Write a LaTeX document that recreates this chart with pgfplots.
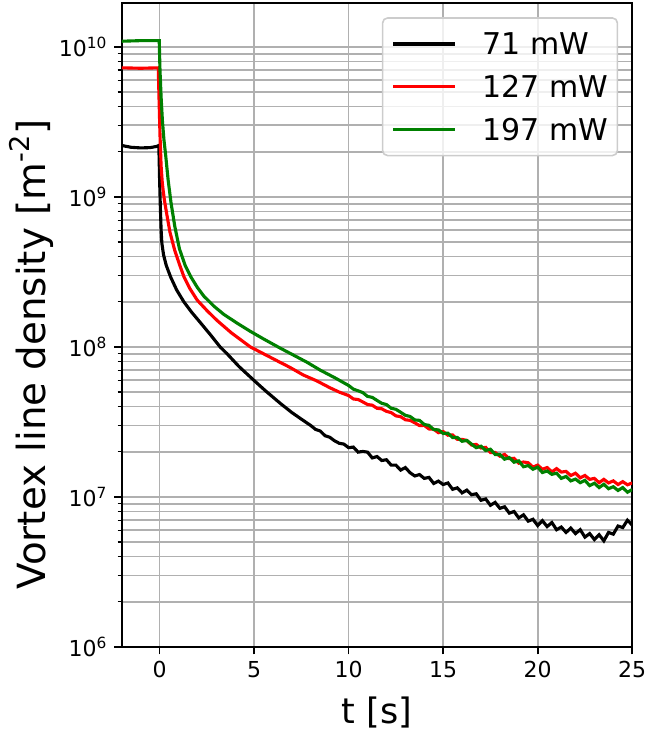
\documentclass[border=0pt]{standalone}
\usepackage{fontspec}
\setmainfont{DejaVu Sans}
\usepackage{pgfplots}
\pgfplotsset{compat=1.18}
\definecolor{gridgray}{RGB}{176,176,176}
\definecolor{legframe}{RGB}{204,204,204}
\definecolor{mplgreen}{RGB}{0,128,0}
\begin{document}
\begin{tikzpicture}
\useasboundingbox (0,0) rectangle (323.5pt,367.5pt);
\begin{axis}[
  at={(60.9pt,44pt)}, anchor=south west,
  scale only axis, width=255.2pt, height=322pt,
  ymode=log, xmin=-2, xmax=25, ymin=1e6, ymax=1.96e10,
  xtick={0,5,10,15,20,25},
  ytick={1e6,1e7,1e8,1e9,1e10},
  yticklabels={{10\textsuperscript{6}},{10\textsuperscript{7}},{10\textsuperscript{8}},{10\textsuperscript{9}},{10\textsuperscript{10}}},
  minor ytick={2e6,3e6,4e6,5e6,6e6,7e6,8e6,9e6,2e7,3e7,4e7,5e7,6e7,7e7,8e7,9e7,2e8,3e8,4e8,5e8,6e8,7e8,8e8,9e8,2e9,3e9,4e9,5e9,6e9,7e9,8e9,9e9},
  /pgf/number format/assume math mode=true,
  tick pos=left, tick align=outside,
  major tick length=3.65pt, minor tick length=2.1pt,
  every tick/.style={black, line width=0.83pt},
  minor tick style={black, line width=0.62pt},
  ticklabel style={font=\fontsize{11}{13}\selectfont},
  xmajorgrids, ymajorgrids, yminorgrids,
  major grid style={gridgray, line width=0.83pt},
  minor grid style={gridgray, line width=0.83pt},
  axis line style={black, line width=0.83pt},
  xlabel={t [s]},
  ylabel={Vortex line density [m\textsuperscript{-2}]},
  xlabel style={font=\fontsize{17.5}{21}\selectfont, at={(axis description cs:0.5,0)}, anchor=center, yshift=-33pt},
  ylabel style={font=\fontsize{19.4}{23}\selectfont, at={(axis description cs:-0.177,0.4544)}, anchor=center},
  legend style={at={(0.9726,0.978)}, anchor=north east, draw=legframe, rounded corners=2.5pt,
    fill=white, fill opacity=0.8, text opacity=1, draw opacity=1,
    font=\fontsize{15}{18}\selectfont, inner xsep=4.5pt, inner ysep=7.5pt, row sep=10.4pt,
    line width=0.8pt,
    nodes={inner sep=0pt, text height=11pt, text depth=0pt},
    /tikz/every odd column/.append style={column sep=13pt}},
  legend cell align=left,
  legend image code/.code={\draw[#1] (0pt,0pt) -- (31pt,0pt);},
]
\addplot[black, line width=1.56pt] coordinates {
(-2,2.2e9) (-1.5,2.14e9) (-1,2.12e9) (-0.5,2.13e9) (-0.15,2.17e9) (-0.04,2.2e9)
(0.0,1.3e9) (0.04,8.5e8) (0.08,6.0e8) (0.12,4.9e8) (0.21,4.1e8) (0.35,3.5e8)
(0.58,2.93e8) (0.9,2.4e8) (1.28,2.0e8) (1.7,1.7e8) (2.16,1.45e8) (2.7,1.2e8)
(3.2,1.0e8) (3.57,9.0e7) (4.2,7.4e7) (4.98,6.0e7) (5.6,5.1e7) (6.39,4.2e7)
(7.0,3.65e7) (7.5,3.3e7)
(8.0,2.99e7) (8.25,2.82e7) (8.5,2.75e7) (8.75,2.56e7) (9.0,2.50e7) (9.25,2.37e7)
(9.5,2.28e7) (9.75,2.25e7) (10.0,2.13e7) (10.25,2.15e7) (10.5,1.99e7) (10.75,2.01e7)
(11.0,1.99e7) (11.25,1.82e7) (11.5,1.86e7) (11.75,1.75e7) (12.0,1.77e7) (12.25,1.63e7)
(12.5,1.63e7) (12.75,1.51e7) (13.0,1.57e7) (13.25,1.45e7) (13.5,1.38e7) (13.75,1.41e7)
(14.0,1.33e7) (14.25,1.35e7) (14.5,1.23e7) (14.75,1.275e7) (15.0,1.21e7) (15.25,1.24e7)
(15.5,1.125e7) (15.75,1.15e7) (16.0,1.065e7) (16.25,1.11e7) (16.5,1.035e7) (16.75,1.05e7)
(17.0,9.5e6) (17.25,9.7e6) (17.5,8.8e6) (17.75,9.2e6) (18.0,8.4e6) (18.25,8.6e6)
(18.5,7.8e6) (18.75,8.0e6) (19.0,7.25e6) (19.25,7.6e6) (19.5,6.9e6) (19.75,7.1e6)
(20.0,6.45e6) (20.25,6.95e6) (20.5,6.35e6) (20.75,6.75e6) (21.0,6.05e6) (21.25,6.3e6)
(21.5,5.8e6) (21.75,6.2e6) (22.0,5.7e6) (22.25,6.05e6) (22.5,5.4e6) (22.75,5.7e6)
(23.0,5.2e6) (23.25,5.6e6) (23.5,5.1e6) (23.75,5.8e6) (24.0,5.65e6) (24.25,6.4e6)
(24.5,6.25e6) (24.75,7.0e6) (25.0,6.5e6)
};
\addlegendentry{71 mW}
\addplot[red, line width=1.56pt] coordinates {
(-2,7.25e9) (-1,7.2e9) (-0.07,7.25e9) (-0.03,4.5e9) (0.02,2.6e9) (0.08,1.6e9)
(0.14,1.25e9) (0.19,1.1e9) (0.25,9.6e8) (0.4,7.4e8) (0.55,5.8e8) (0.8,4.4e8)
(1.05,3.55e8) (1.28,2.95e8) (1.6,2.45e8) (1.99,2.05e8) (2.5,1.75e8) (3.04,1.5e8)
(3.8,1.24e8) (4.8,1.0e8) (5.5,9.0e7) (6.2,8.1e7) (6.9,7.3e7) (7.6,6.5e7)
(8.3,5.95e7) (9.0,5.35e7) (9.5,5.0e7)
(10.0,4.74e7) (10.25,4.50e7) (10.5,4.46e7) (10.75,4.30e7) (11.0,4.13e7) (11.25,4.09e7)
(11.5,3.90e7) (11.75,3.87e7) (12.0,3.72e7) (12.25,3.65e7) (12.5,3.47e7) (12.75,3.43e7)
(13.0,3.27e7) (13.25,3.24e7) (13.5,3.12e7) (13.75,2.99e7) (14.0,3.00e7) (14.25,2.84e7)
(14.5,2.83e7) (14.75,2.68e7) (15.0,2.73e7) (15.25,2.58e7) (15.5,2.59e7) (15.75,2.42e7)
(16.0,2.42e7) (16.25,2.38e7) (16.5,2.22e7) (16.75,2.24e7) (17.0,2.12e7) (17.25,2.14e7)
(17.5,1.98e7) (17.75,1.98e7) (18.0,1.87e7) (18.25,1.92e7) (18.5,1.80e7) (18.75,1.81e7)
(19.0,1.68e7) (19.25,1.71e7) (19.5,1.69e7) (19.75,1.58e7) (20.0,1.63e7) (20.25,1.53e7)
(20.5,1.57e7) (20.75,1.47e7) (21.0,1.545e7) (21.25,1.465e7) (21.5,1.48e7) (21.75,1.39e7)
(22.0,1.44e7) (22.25,1.34e7) (22.5,1.39e7) (22.75,1.31e7) (23.0,1.33e7) (23.25,1.245e7)
(23.5,1.31e7) (23.75,1.24e7) (24.0,1.28e7) (24.25,1.21e7) (24.5,1.265e7) (24.75,1.205e7)
(25.0,1.24e7)
};
\addlegendentry{127 mW}
\addplot[mplgreen, line width=1.56pt] coordinates {
(-2,1.09e10) (-1,1.1e10) (-0.02,1.1e10) (0.02,7e9) (0.08,4.6e9) (0.15,3.2e9)
(0.23,2.4e9) (0.32,1.9e9) (0.45,1.3e9) (0.6,9.2e8) (0.8,6.4e8) (1.05,4.5e8)
(1.35,3.5e8) (1.64,2.95e8) (1.99,2.5e8) (2.34,2.18e8) (2.87,1.87e8) (3.39,1.65e8)
(4.1,1.44e8) (4.8,1.27e8) (5.5,1.13e8) (6.39,9.8e7) (7.4,8.4e7) (7.8,7.9e7)
(8.5,7.0e7) (9.3,6.2e7)
(10.0,5.53e7) (10.25,5.23e7) (10.5,5.10e7) (10.75,4.96e7) (11.0,4.68e7) (11.25,4.61e7)
(11.5,4.40e7) (11.75,4.21e7) (12.0,4.13e7) (12.25,3.90e7) (12.5,3.84e7) (12.75,3.67e7)
(13.0,3.50e7) (13.25,3.44e7) (13.5,3.26e7) (13.75,3.24e7) (14.0,3.04e7) (14.25,3.00e7)
(14.5,2.81e7) (14.75,2.80e7) (15.0,2.65e7) (15.25,2.66e7) (15.5,2.49e7) (15.75,2.49e7)
(16.0,2.35e7) (16.25,2.38e7) (16.5,2.25e7) (16.75,2.13e7) (17.0,2.18e7) (17.25,2.04e7)
(17.5,2.08e7) (17.75,1.92e7) (18.0,1.92e7) (18.25,1.785e7) (18.5,1.83e7) (18.75,1.705e7)
(19.0,1.74e7) (19.25,1.59e7) (19.5,1.62e7) (19.75,1.53e7) (20.0,1.58e7) (20.25,1.455e7)
(20.5,1.49e7) (20.75,1.415e7) (21.0,1.44e7) (21.25,1.33e7) (21.5,1.37e7) (21.75,1.28e7)
(22.0,1.315e7) (22.25,1.245e7) (22.5,1.29e7) (22.75,1.19e7) (23.0,1.235e7) (23.25,1.155e7)
(23.5,1.215e7) (23.75,1.135e7) (24.0,1.17e7) (24.25,1.105e7) (24.5,1.155e7) (24.75,1.075e7)
(25.0,1.12e7)
};
\addlegendentry{197 mW}
\end{axis}
\end{tikzpicture}
\end{document}
